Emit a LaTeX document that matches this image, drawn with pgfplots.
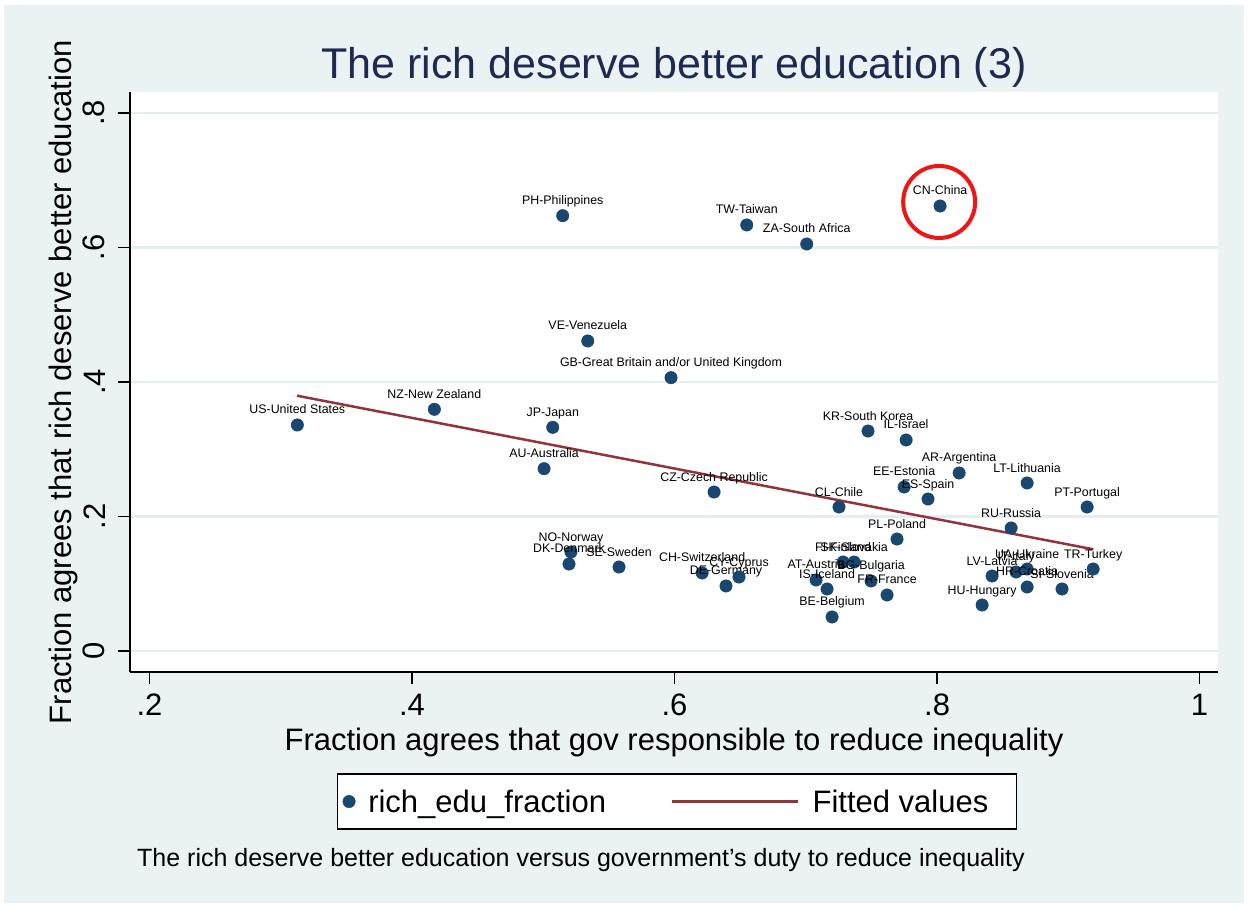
\documentclass[border=0pt]{standalone}
\usepackage{fontspec}
\setmainfont{Liberation Sans}
\usepackage{pgfplots}
\usepackage{pgfplotstable}
\pgfplotsset{compat=1.18}
\definecolor{stnavy}{HTML}{1A476F}
\definecolor{stmaroon}{HTML}{90353B}
\definecolor{stbg}{HTML}{EAF2F3}
\definecolor{stgrid}{HTML}{E4EDEF}
\definecolor{sttitle}{HTML}{1E2A50}
\definecolor{hlred}{HTML}{EE1515}

\pgfplotstableread[col sep=comma]{
x,y,label
0.3126,0.3361,US-United States
0.4170,0.3594,NZ-New Zealand
0.5072,0.3326,JP-Japan
0.5006,0.2711,AU-Australia
0.5148,0.6473,PH-Philippines
0.6550,0.6335,TW-Taiwan
0.7007,0.6052,ZA-South Africa
0.8023,0.6617,CN-China
0.5339,0.4610,VE-Venezuela
0.5973,0.4064,GB-Great Britain and/or United Kingdom
0.6301,0.2364,CZ-Czech Republic
0.7474,0.3271,KR-South Korea
0.7764,0.3138,IL-Israel
0.8168,0.2647,AR-Argentina
0.7749,0.2439,EE-Estonia
0.7931,0.2260,ES-Spain
0.8686,0.2498,LT-Lithuania
0.7253,0.2141,CL-Chile
0.9143,0.2141,PT-Portugal
0.8564,0.1829,RU-Russia
0.7695,0.1665,PL-Poland
0.7284,0.1323,FI-Finland
0.7368,0.1323,SK-Slovakia
0.7078,0.1056,AT-Austria
0.7162,0.0922,IS-Iceland
0.7497,0.1041,BG-Bulgaria
0.7619,0.0833,FR-France
0.7200,0.0506,BE-Belgium
0.6210,0.1160,CH-Switzerland
0.6392,0.0967,DE-Germany
0.6491,0.1100,CY-Cyprus
0.5211,0.1472,NO-Norway
0.5196,0.1294,DK-Denmark
0.5577,0.1249,SE-Sweden
0.8419,0.1115,LV-Latvia
0.8602,0.1175,IT-Italy
0.8686,0.1219,UA-Ukraine
0.8686,0.0952,HR-Croatia
0.8952,0.0922,SI-Slovenia
0.9189,0.1219,TR-Turkey
0.8343,0.0684,HU-Hungary
}\countries

\pgfplotstableread[col sep=comma]{
x,y
0.3124,0.3796
0.9191,0.1512
}\fitted

\pgfplotsset{
  scatterlegend/.style={legend image code/.code={\draw[mark repeat=2, mark phase=2, #1] plot coordinates {(0pt,0pt) (13pt,0pt) (26pt,0pt)};}},
  linelegend/.style={legend image code/.code={\draw[#1] (0pt,0pt) -- (117pt,0pt); \path (117pt,0pt) -- (126pt,0pt);}},
}

\begin{document}
\begin{tikzpicture}
\fill[white] (0pt,0pt) rectangle (1249pt,-907pt);
\fill[stbg] (4pt,-5pt) rectangle (1244pt,-903pt);
\begin{axis}[
  at={(130pt,-672pt)}, anchor=south west,
  scale only axis, width=1088pt, height=580pt,
  xmin=0.18514, xmax=1.0141, ymin=-0.03123, ymax=0.8312,
  axis background/.style={fill=white},
  axis lines*=left,
  axis line style={black, line width=1.3pt, -},
  xtick={0.2,0.4,0.6,0.8,1}, xticklabels={.2,.4,.6,.8,1},
  ytick={0,0.2,0.4,0.6,0.8}, yticklabels={0,.2,.4,.6,.8},
  tick align=outside, major tick length=12pt,
  tick style={black, line width=1.3pt},
  tick label style={font=\fontsize{31}{37}\selectfont, inner sep=0pt},
  xticklabel style={anchor=north},
  yticklabel style={rotate=90, anchor=south},
  xticklabel shift=10pt, yticklabel shift=12.5pt,
  ymajorgrids,
  grid style={stgrid, line width=2.5pt},
  title={The rich deserve better education (3)},
  every axis title/.style={at={(axis description cs:0.5,1.0241)}, anchor=base, font=\fontsize{43}{50}\selectfont, text=sttitle, inner sep=0pt},
  xlabel={Fraction agrees that gov responsible to reduce inequality},
  every axis x label/.style={at={(axis description cs:0.5,-0.1345)}, anchor=base, font=\fontsize{31}{37}\selectfont, inner sep=0pt},
  ylabel={Fraction agrees that rich deserve better education},
  every axis y label/.style={at={(axis description cs:-0.0542,0.5)}, rotate=90, anchor=base, font=\fontsize{31}{37}\selectfont, inner sep=0pt},
  legend style={at={(axis description cs:0.5028,-0.2233)}, anchor=center, legend columns=2, draw=black, line width=1.2pt, fill=white, font=\fontsize{31}{37}\selectfont, inner xsep=5pt, inner ysep=13.5pt,
    /tikz/every odd column/.append style={column sep=11pt},
    /tikz/every even column/.append style={column sep=63pt}},
  legend cell align=left,
]
\addplot[only marks, mark=*, mark size=6.2pt, color=stnavy,
  mark options={fill=stnavy, draw=stnavy, line width=0.5pt},
  nodes near coords, point meta=explicit symbolic,
  nodes near coords align={anchor=base},
  every node near coord/.append style={font=\fontsize{12.4}{14}\selectfont, text=black, inner sep=0pt, yshift=11pt},
  scatterlegend
] table[x=x, y=y, meta=label] {\countries};
\addlegendentry{rich\_edu\_fraction}
\addplot[stmaroon, line width=2.5pt, no marks, linelegend] table[x=x, y=y] {\fitted};
\addlegendentry{Fitted values\hspace*{21pt}}
\addplot[forget plot, only marks, mark=o, mark size=36pt, hlred, mark options={line width=4pt}] coordinates {(0.8016,0.6677)};
\end{axis}
\node[anchor=base west, inner sep=0pt, font=\fontsize{25}{30}\selectfont] at (137pt,-866pt) {The rich deserve better education versus government's duty to reduce inequality};
\end{tikzpicture}
\end{document}
